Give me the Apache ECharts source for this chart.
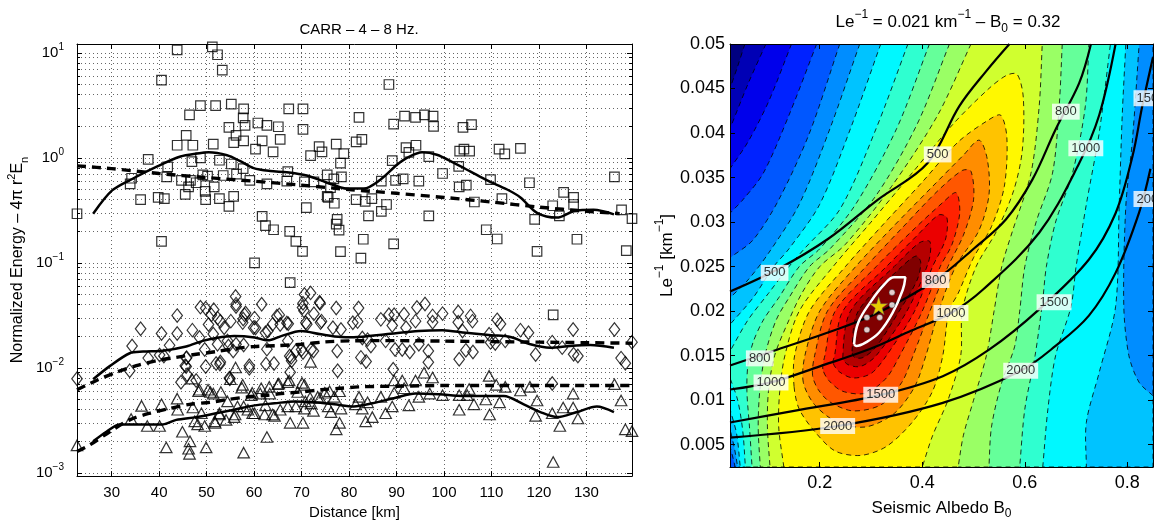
<!DOCTYPE html>
<html><head><meta charset="utf-8">
<script src="https://cdn.jsdelivr.net/npm/echarts@6/dist/echarts.min.js"></script>
<style>html,body{margin:0;padding:0;background:#fff}#c{width:1154px;height:525px}</style>
</head><body><div id="c"></div>
<script>
const FONT = 'Liberation Sans, Arial, Helvetica, sans-serif';

// ---------------- LEFT PANEL DATA ----------------
const DIST_TICKS = [30,40,50,60,70,80,90,100,110,120,130];
const ENERGY_DECADES = [0.001,0.01,0.1,1,10];
const ENERGY_MINOR = [0.002,0.003,0.004,0.005,0.006,0.007,0.008,0.009,0.02,0.03,0.04,0.05,0.06,0.07,0.08,0.09,0.2,0.3,0.4,0.5,0.6,0.7,0.8,0.9,2,3,4,5,6,7,8,9];

const SQUARES = [[22.7,0.294],[43.8,10.7],[51.2,11.4],[52.3,9.6],[53.3,6.85],[40.5,5.5],[48.7,3.15],[51.9,3.15],[55.2,3.25],[57.8,2.93],[57.7,2.41],[58.1,2.04],[46.4,2.57],[54.7,1.95],[60.8,2.15],[62.7,2.04],[65.1,1.98],[67.3,2.93],[70.3,2.93],[70.3,1.87],[45.7,1.64],[43.8,1.32],[47.1,1.32],[51.4,1.35],[56.2,1.64],[55.7,1.40],[57.8,1.45],[61.7,1.45],[65.5,1.5],[60.3,1.21],[64,1.14],[37.7,0.97],[46.9,0.92],[48.7,1.0],[52.7,0.95],[55.2,0.875],[57.7,0.79],[56.3,0.70],[53.5,0.68],[50.2,0.67],[49.2,0.69],[41.8,0.82],[41.6,0.66],[34.2,0.64],[33.9,0.565],[44.7,0.61],[46.6,0.61],[47.8,0.58],[46.2,0.53],[51.6,0.53],[59.1,0.61],[62.7,0.565],[67.1,0.74],[66.9,0.60],[70.6,0.59],[72.6,0.59],[73.7,1.28],[74.3,1.14],[71.9,1.05],[75.4,0.69],[49.7,0.48],[49.8,0.40],[45.5,0.45],[39.8,0.42],[41.1,0.41],[36.1,0.40],[52.7,0.41],[55.7,0.43],[54.7,0.345],[71,0.336],[75.4,0.43],[61.7,0.278],[62.4,0.226],[64.1,0.207],[67.5,0.20],[68.8,0.16],[70.2,0.129],[40.5,0.16],[60.1,0.10],[67.6,0.065],
[88.4,5.0],[82.1,2.43],[89.4,2.1],[91.7,2.5],[94,2.43],[95.9,2.57],[97.7,2.5],[97.8,2.0],[104,1.95],[105.8,2.07],[77.3,1.35],[81.5,1.42],[82.7,1.5],[78.9,1.1],[78.2,0.89],[89.1,0.94],[92,1.25],[92.6,1.13],[94.1,1.32],[96.8,1.03],[103.3,1.16],[104.2,1.21],[105.4,1.16],[111.6,1.21],[112.8,1.09],[116.1,1.23],[99.7,0.71],[103.1,0.83],[109.8,0.62],[118,0.58],[135.9,0.66],[76.8,0.63],[78.4,0.66],[76.1,0.52],[75.6,0.42],[76.9,0.37],[81.5,0.40],[83.4,0.385],[84.8,0.41],[86.8,0.31],[87.9,0.36],[84.1,0.28],[86.8,0.60],[89.8,0.61],[91.4,0.63],[94.7,0.60],[103.2,0.53],[104.7,0.55],[106.4,0.38],[112.2,0.41],[122.9,0.35],[125.2,0.47],[127.3,0.42],[127.3,0.36],[119.1,0.26],[124.3,0.28],[137.4,0.32],[139.6,0.264],[96.8,0.28],[77.5,0.26],[77.3,0.234],[77.9,0.205],[83,0.168],[78.2,0.128],[82.5,0.111],[89.4,0.152],[108.9,0.207],[111.2,0.169],[119.6,0.129],[128,0.168],[138.4,0.131],[123,0.032]];

const DIAMONDS = [[22.7,0.0079],[34.3,0.0162],[36.1,0.0236],[40.5,0.0213],[42.2,0.0164],[43.8,0.0315],[43.8,0.0213],[47,0.0229],[48.7,0.0379],[44.6,0.0073],[45.7,0.0103],[45.8,0.0125],[51.5,0.0358],[50.4,0.0259],[52.9,0.0278],[54.6,0.0162],[52.9,0.0114],[54.9,0.0079],[56.1,0.0478],[56.2,0.0405],[57.7,0.0292],[58.2,0.0334],[59,0.0105],[57.8,0.0165],[60.3,0.024],[62.4,0.0216],[64.8,0.031],[65.5,0.0259],[62.5,0.0109],[64.2,0.011],[62.7,0.0151],[66.9,0.0268],[67.5,0.013],[67.6,0.0091],[70.3,0.0413],[71.9,0.0518],[70.6,0.05],[70.5,0.035],[72.6,0.0328],[72.5,0.0145],[70.3,0.014],[71.1,0.026],[73.9,0.0413],[74,0.027],
[48.5,0.0195],[51.4,0.021],[37.7,0.0124],[40.1,0.0133],[41,0.013],[45.7,0.0124],[49.6,0.015],[45.5,0.0105],[33.8,0.0094],[45.9,0.0086],[49.8,0.0103],[47.8,0.0076],[52,0.011],[51,0.032],[49.8,0.037],
[56.2,0.0385],[58,0.032],[61.6,0.0404],[60.1,0.0298],[57.6,0.027],[55.1,0.0279],[52.3,0.0298],[53.7,0.0241],[59.9,0.0241],[62.9,0.0225],[63.9,0.026],[65.3,0.032],[67.2,0.0263],[73.8,0.0422],[70.2,0.0377],[70.9,0.0269],[74.2,0.0279],[77.3,0.0372],[76.6,0.0241],[78.3,0.0232],[80.8,0.0269],[52.3,0.0168],[54.4,0.0181],[56.2,0.0168],[55.6,0.0145],[52.8,0.0109],[59,0.0099],[54.8,0.008],[67.1,0.0181],[67.8,0.0126],[68.8,0.0145],[70,0.015],[72,0.015],[67.9,0.0117],[77.5,0.0145],[77.6,0.0094],[62.5,0.00093],
[82,0.0372],[81.8,0.0276],[83.9,0.0186],[86.7,0.029],[88.4,0.0321],[89.5,0.0321],[89.1,0.0253],[91.6,0.0325],[92,0.0241],[94,0.0279],[94.3,0.0376],[96,0.0406],[97.6,0.0313],[97.6,0.0272],[99.7,0.0329],[103,0.0341],[103,0.0272],[105.6,0.0313],[106,0.0279],[103.9,0.0225],[82.8,0.0193],[84.6,0.0162],[87.7,0.0181],[89.7,0.015],[91.2,0.015],[92.8,0.0142],[94.7,0.0168],[96.7,0.0145],[96.7,0.0113],[103.2,0.0121],[104.6,0.0147],[106.1,0.0142],[82.5,0.0126],[83.6,0.0115],[89.3,0.0097],[109.5,0.0209],[109.8,0.0175],
[111.9,0.0262],[111.2,0.0287],[112.9,0.0181],[110.8,0.0171],[116.1,0.0229],[117.8,0.0216],[119.3,0.0134],[122.8,0.0176],[124.9,0.0156],[127.2,0.0232],[127.3,0.0135],[128.2,0.013],[135.9,0.0232],[137.3,0.0124],[138.2,0.0111],[139.6,0.0176],[122.8,0.0071]];

const TRIANGLES = [[22.7,0.00183],[34.1,0.00326],[36.3,0.00435],[37.5,0.0028],[40.5,0.0045],[40.1,0.0028],[41.5,0.00175],[43.8,0.0051],[43.9,0.004],[44.9,0.00247],[46.5,0.002],[46.4,0.00152],[46.2,0.0017],[46.9,0.0079],[47.1,0.0042],[48.1,0.0029],[49.9,0.00175],[48.3,0.006],[50.8,0.0059],[51.8,0.003],[52.7,0.0037],[56,0.0036],[56.1,0.0101],[55,0.0078],[57.4,0.0065],[57.8,0.00156],[57.8,0.0043],[59.6,0.0058],[59.7,0.0037],[62.7,0.0022],[62.4,0.0044],[61.3,0.0057],[63.3,0.0057],[64.3,0.0035],[65.2,0.0071],[65.5,0.004],[67.1,0.0073],[67.6,0.003],[70.1,0.0072],[70.3,0.003],[70.8,0.0048],[71.8,0.0052],[71.9,0.0114],[72.5,0.0039],[73.9,0.0052],[74.9,0.0058],[75.6,0.0043],
[47.5,0.0031],[48.5,0.0062],[49.6,0.0028],[51.4,0.0057],[51.7,0.0031],[50.3,0.0062],[48.9,0.0037],
[57.6,0.0069],[59.4,0.0055],[61.5,0.0064],[63.2,0.0066],[65,0.007],[67.4,0.0076],[69.2,0.0059],[70.6,0.0069],[73.4,0.0053],[75.9,0.006],[76.9,0.0053],[78,0.006],[53,0.0059],[54.4,0.0048],[56.5,0.0043],[58.7,0.004],[60.1,0.0037],[62.2,0.0036],[63.9,0.0036],[67.1,0.0043],[68.8,0.0043],[70.6,0.0041],[72,0.0046],[76.2,0.0038],[78.3,0.0041],[52.7,0.0036],[54.1,0.0032],[55.8,0.0034],[78,0.003],[77.3,0.0026],
[82.1,0.0053],[83.9,0.0047],[82.8,0.0041],[81.4,0.0045],[84.9,0.0034],[83.5,0.0031],[86.7,0.0053],[87.7,0.0037],[89.1,0.0043],[89.5,0.0076],[89.5,0.0058],[91.2,0.0076],[91.6,0.0064],[92.6,0.0044],[94,0.0076],[94.7,0.0053],[95.8,0.009],[97.6,0.0081],[97,0.0057],[99.7,0.0055],[103.2,0.0055],[103.2,0.004],[104.9,0.0055],[105.3,0.0063],[106.3,0.0045],[108.8,0.005],[109.5,0.0084],[109.6,0.0036],
[111,0.0069],[111.7,0.0047],[112.9,0.0066],[116.1,0.0061],[118.1,0.0066],[119.6,0.0049],[119.3,0.0035],[122.8,0.0037],[124.4,0.0028],[125.1,0.0042],[127.2,0.0057],[127.2,0.0042],[128.2,0.0033],[135.9,0.007],[137.3,0.0049],[138.2,0.0026],[139.6,0.0025],[123,0.00127]];

const SQ_SMOOTH = [[26.1,0.294],[30.1,0.49],[34.6,0.64],[39.6,0.83],[44.5,1.03],[48,1.1],[50.4,1.13],[54.3,1.06],[57.1,0.93],[59.9,0.80],[63.4,0.75],[66.9,0.73],[71.1,0.68],[75,0.59],[79.6,0.51],[83.1,0.51],[86.6,0.62],[90.1,0.86],[92.2,1.0],[95.4,1.13],[98.5,1.07],[102,0.90],[105.6,0.74],[109.1,0.61],[113.3,0.50],[116.1,0.42],[119.6,0.30],[123.8,0.27],[127.3,0.31],[131.5,0.32],[135.8,0.29]];
const SQ_FIT = [[22.7,0.84],[30,0.79],[40,0.71],[50,0.65],[60,0.6],[70,0.55],[80,0.5],[90,0.46],[100,0.42],[110,0.38],[120,0.34],[130,0.31],[137,0.295]];
const DIA_SMOOTH = [[26.1,0.0078],[29.6,0.0104],[33.8,0.0138],[36.6,0.0143],[40.8,0.0146],[45.7,0.016],[49.2,0.0181],[52,0.0193],[55.8,0.0201],[60.1,0.0195],[62.9,0.0183],[65.7,0.0201],[69.9,0.0225],[74.1,0.0209],[78.3,0.0197],[81,0.0196],[87.7,0.0209],[94.7,0.0225],[99.7,0.0229],[104.6,0.0216],[110,0.0205],[114,0.0197],[118.2,0.0168],[122.4,0.0156],[126.6,0.0162],[130.8,0.0165],[135.8,0.0156]];
const DIA_FIT = [[22.7,0.0062],[26.8,0.0076],[31,0.0091],[35.2,0.0105],[39.4,0.0117],[43.6,0.0126],[47.8,0.0135],[52,0.0143],[56,0.0153],[60,0.016],[65,0.0163],[70,0.0168],[75,0.0177],[80,0.0181],[90,0.0182],[100,0.018],[110,0.0178],[120,0.0176],[130,0.0174],[139.6,0.0172]];
const TRI_SMOOTH = [[26.1,0.002],[28.9,0.00247],[31.7,0.0029],[33.8,0.0029],[38,0.0029],[40.8,0.0029],[43.6,0.0032],[47.8,0.0034],[52,0.0037],[55.8,0.004],[60.1,0.0044],[64.3,0.0046],[68.5,0.0048],[72.7,0.0047],[76.9,0.0045],[81,0.0043],[84.9,0.0046],[89.8,0.0052],[94,0.0057],[99,0.0056],[103.9,0.0054],[110.5,0.0054],[112.6,0.0054],[116.8,0.0045],[120.3,0.0038],[123.8,0.0034],[128,0.0038],[132.2,0.0043],[135.8,0.0038]];
const TRI_FIT = [[22.7,0.0016],[25.4,0.00185],[29.6,0.00247],[33.8,0.0032],[38,0.0037],[42.2,0.0041],[46.4,0.0045],[50.7,0.0047],[54.4,0.005],[58.7,0.0053],[62.9,0.0055],[65.7,0.0057],[69.9,0.0059],[74.1,0.0062],[78.3,0.0064],[82,0.0066],[90,0.0067],[100,0.0068],[110,0.0068],[120,0.0068],[130,0.0068],[139.6,0.0068]];

// ---------------- RIGHT PANEL DATA ----------------
const ALBEDO_TICKS = [0.2,0.4,0.6,0.8];
const LE_TICKS = [0.005,0.01,0.015,0.02,0.025,0.03,0.035,0.04,0.045,0.05];

// filled-contour regions (value >= level k)
const LEVEL_0 = [[0.025,0.0025],[0.85,0.0025],[0.85,0.05],[0.025,0.05]];
const LEVEL_1 = [[0.054,0.05],[0.04,0.0475],[0.025,0.045],[0.025,0.0025],[0.85,0.0025],[0.85,0.05]];
const LEVEL_2 = [[0.095,0.05],[0.06,0.0455],[0.025,0.0405],[0.025,0.0025],[0.85,0.0025],[0.85,0.05]];
const LEVEL_3 = [[0.145,0.05],[0.1,0.0435],[0.06,0.039],[0.025,0.036],[0.025,0.0025],[0.85,0.0025],[0.85,0.05]];
const LEVEL_4 = [[0.194,0.05],[0.14,0.042],[0.09,0.0355],[0.05,0.0325],[0.025,0.031],[0.025,0.0025],[0.85,0.0025],[0.85,0.05]];
const LEVEL_5 = [[0.239,0.05],[0.18,0.04],[0.12,0.0325],[0.07,0.028],[0.025,0.026],[0.025,0.0048],[0.031,0.0035],[0.035,0.0025],[0.85,0.0025],[0.85,0.05]];
const LEVEL_6 = [[0.278,0.05],[0.22,0.0405],[0.16,0.032],[0.1,0.0265],[0.06,0.0235],[0.025,0.0215],[0.025,0.0068],[0.034,0.0045],[0.04,0.0025],[0.85,0.0025],[0.85,0.0105],[0.823,0.012],[0.803,0.015],[0.793,0.0206],[0.797,0.0318],[0.81,0.0393],[0.823,0.05]];
const LEVEL_7 = [[0.319,0.05],[0.26,0.0405],[0.2,0.032],[0.14,0.027],[0.11,0.025],[0.07,0.0215],[0.025,0.0185],[0.025,0.009],[0.038,0.0062],[0.045,0.0025],[0.72,0.0025],[0.72,0.0075],[0.745,0.0131],[0.777,0.0205],[0.784,0.0318],[0.79,0.042],[0.797,0.05]];
const LEVEL_8 = [[0.372,0.05],[0.31,0.0405],[0.24,0.0315],[0.17,0.027],[0.14,0.025],[0.1,0.022],[0.06,0.019],[0.025,0.0155],[0.025,0.0125],[0.04,0.01],[0.05,0.0065],[0.055,0.0025],[0.635,0.0025],[0.645,0.009],[0.66,0.015],[0.69,0.0205],[0.7,0.025],[0.72,0.032],[0.745,0.04],[0.767,0.05]];
const LEVEL_9 = [[0.414,0.05],[0.35,0.0405],[0.27,0.032],[0.2,0.027],[0.16,0.025],[0.12,0.0215],[0.09,0.019],[0.07,0.0165],[0.06,0.014],[0.058,0.011],[0.063,0.007],[0.068,0.0025],[0.59,0.0025],[0.6,0.009],[0.62,0.015],[0.635,0.0213],[0.642,0.025],[0.66,0.03],[0.693,0.0355],[0.718,0.043],[0.725,0.05]];
const LEVEL_10 = [[0.453,0.05],[0.39,0.041],[0.31,0.033],[0.22,0.027],[0.18,0.025],[0.14,0.0215],[0.115,0.019],[0.093,0.015],[0.083,0.011],[0.08,0.007],[0.084,0.0025],[0.53,0.0025],[0.535,0.007],[0.555,0.012],[0.58,0.016],[0.59,0.02],[0.6,0.025],[0.622,0.03],[0.654,0.0355],[0.667,0.043],[0.673,0.05]];
const LEVEL_11 = [[0.495,0.05],[0.43,0.042],[0.34,0.034],[0.25,0.0275],[0.2,0.025],[0.165,0.022],[0.14,0.019],[0.112,0.015],[0.1,0.011],[0.098,0.007],[0.103,0.0025],[0.47,0.0025],[0.48,0.006],[0.5,0.01],[0.525,0.015],[0.54,0.02],[0.555,0.025],[0.576,0.029],[0.612,0.0355],[0.628,0.043],[0.634,0.05]];
const LEVEL_12 = [[0.13,0.0025],[0.12,0.007],[0.122,0.011],[0.132,0.015],[0.16,0.02],[0.226,0.025],[0.3,0.03],[0.38,0.0355],[0.46,0.041],[0.53,0.045],[0.565,0.0465],[0.585,0.0466],[0.597,0.044],[0.595,0.038],[0.578,0.0335],[0.545,0.029],[0.505,0.025],[0.478,0.02],[0.475,0.015],[0.45,0.01],[0.42,0.006],[0.40,0.0025]];
const LEVEL_13 = [[0.15,0.0115],[0.151,0.015],[0.18,0.02],[0.25,0.025],[0.32,0.0295],[0.40,0.0345],[0.47,0.039],[0.53,0.0415],[0.553,0.042],[0.565,0.0395],[0.56,0.034],[0.535,0.0295],[0.5,0.026],[0.47,0.022],[0.452,0.02],[0.44,0.015],[0.42,0.011],[0.38,0.0075],[0.33,0.0048],[0.28,0.0038],[0.23,0.0043],[0.19,0.0065],[0.16,0.009]];
const LEVEL_14 = [[0.168,0.012],[0.171,0.015],[0.2,0.02],[0.27,0.025],[0.34,0.0293],[0.42,0.034],[0.48,0.0375],[0.511,0.0392],[0.527,0.037],[0.53,0.033],[0.51,0.029],[0.465,0.025],[0.432,0.02],[0.407,0.015],[0.385,0.0115],[0.345,0.0085],[0.29,0.007],[0.235,0.0075],[0.19,0.0095]];
const LEVEL_15 = [[0.186,0.0128],[0.19,0.015],[0.215,0.02],[0.29,0.025],[0.36,0.0293],[0.43,0.0335],[0.478,0.0358],[0.495,0.0357],[0.5,0.0325],[0.48,0.0285],[0.45,0.025],[0.415,0.02],[0.382,0.015],[0.36,0.012],[0.32,0.0095],[0.265,0.0088],[0.22,0.0098],[0.197,0.0112]];
const LEVEL_16 = [[0.206,0.0135],[0.21,0.015],[0.23,0.02],[0.31,0.025],[0.38,0.029],[0.44,0.0322],[0.466,0.0333],[0.473,0.031],[0.458,0.0275],[0.435,0.025],[0.40,0.02],[0.356,0.015],[0.33,0.0125],[0.29,0.0108],[0.245,0.011],[0.218,0.0122]];
const LEVEL_17 = [[0.226,0.0142],[0.229,0.015],[0.245,0.02],[0.33,0.025],[0.39,0.0285],[0.432,0.0308],[0.448,0.0305],[0.445,0.028],[0.42,0.025],[0.385,0.02],[0.33,0.015],[0.3,0.013],[0.265,0.0125],[0.238,0.0132]];
const LEVEL_18 = [[0.245,0.0148],[0.26,0.02],[0.345,0.025],[0.395,0.0277],[0.415,0.0278],[0.412,0.0255],[0.37,0.02],[0.31,0.015],[0.28,0.0138],[0.255,0.014]];
const LEVEL_19 = [[0.263,0.0155],[0.275,0.02],[0.36,0.025],[0.388,0.0262],[0.397,0.0255],[0.39,0.0235],[0.355,0.02],[0.31,0.016],[0.285,0.0148],[0.268,0.0148]];
const LEVELS = [LEVEL_0,LEVEL_1,LEVEL_2,LEVEL_3,LEVEL_4,LEVEL_5,LEVEL_6,LEVEL_7,LEVEL_8,LEVEL_9,LEVEL_10,LEVEL_11,LEVEL_12,LEVEL_13,LEVEL_14,LEVEL_15,LEVEL_16,LEVEL_17,LEVEL_18,LEVEL_19];

const CONTOUR_500 = [[0.025,0.0222],[0.118,0.0247],[0.216,0.0281],[0.313,0.0325],[0.41,0.0366],[0.472,0.043],[0.524,0.0469],[0.57,0.05]];
const CONTOUR_800 = [[0.025,0.0139],[0.118,0.0157],[0.216,0.0176],[0.313,0.0198],[0.426,0.0235],[0.498,0.0269],[0.563,0.0303],[0.615,0.0348],[0.66,0.0404],[0.706,0.0456],[0.729,0.05]];
const CONTOUR_1000 = [[0.025,0.0112],[0.105,0.012],[0.2,0.0138],[0.3,0.0158],[0.378,0.0178],[0.456,0.0198],[0.518,0.0224],[0.628,0.0288],[0.706,0.0366],[0.745,0.042],[0.777,0.05]];
const CONTOUR_1500 = [[0.025,0.0075],[0.15,0.0088],[0.319,0.0106],[0.44,0.0127],[0.531,0.0157],[0.628,0.0202],[0.725,0.0258],[0.777,0.031],[0.81,0.0374],[0.829,0.043],[0.85,0.0485]];
const CONTOUR_2000 = [[0.025,0.0058],[0.235,0.0071],[0.44,0.0097],[0.592,0.0133],[0.66,0.0161],[0.725,0.0195],[0.777,0.0243],[0.823,0.0311],[0.845,0.036]];
const CONTOUR_LABELS = [[0.112,0.0243,'500'],[0.43,0.0376,'500'],[0.083,0.0147,'800'],[0.426,0.0235,'800'],[0.68,0.0424,'800'],[0.105,0.012,'1000'],[0.456,0.0198,'1000'],[0.719,0.0383,'1000'],[0.319,0.0106,'1500'],[0.657,0.021,'1500'],[0.846,0.0439,'1500'],[0.235,0.0071,'2000'],[0.592,0.0133,'2000'],[0.846,0.0326,'2000']];
const CONFIDENCE = [[0.267,0.0163],[0.275,0.0187],[0.2999,0.0211],[0.326,0.023],[0.345,0.0238],[0.367,0.0238],[0.362,0.0224],[0.342,0.0198],[0.316,0.0176],[0.29,0.0165],[0.271,0.0161],[0.267,0.0163]];
const BEST_DOTS = [[0.341,0.0221],[0.341,0.0207],[0.317,0.0193],[0.292,0.0193],[0.292,0.0179]];
const BEST_STAR = [[0.315,0.0206]];

// ---------------- helpers ----------------
function jet(t){
  const c = v => Math.round(255*Math.max(0, Math.min(1, v)));
  return 'rgb(' + c(1.5-Math.abs(4*t-3)) + ',' + c(1.5-Math.abs(4*t-2)) + ',' + c(1.5-Math.abs(4*t-1)) + ')';
}
const XMIN=0.025, XMAX=0.85, YMIN=0.0025, YMAX=0.05;
function onBorder(p){ const e=1e-9; return Math.abs(p[0]-XMIN)<e||Math.abs(p[0]-XMAX)<e||Math.abs(p[1]-YMIN)<e||Math.abs(p[1]-YMAX)<e; }

const black = '#000';
const tickStyle = {color: black, width: 1};
const dotted = {color: '#666', width: 1, type: [1, 3]};
const logLabel = v => { const e = Math.round(Math.log10(v)); return '{b|10}{s|' + (e < 0 ? '\u2212' + (-e) : String(e)) + '}'; };
const T = (size, extra) => Object.assign({fontSize:size, color:black, fontFamily:FONT, fontWeight:'normal'}, extra || {});

function leftY(extra){
  return Object.assign({gridIndex:0, type:'log', logBase:10, min:0.000933, max:12.15,
    axisLine:{show:false}, axisLabel:{show:false}, splitLine:{show:false}, minorTick:{show:false}}, extra);
}

const hollow = {color:'rgba(0,0,0,0)', borderColor:'#000', borderWidth:1.2};
function fitLine(data, dashed){
  return {type:'line', xAxisIndex:0, yAxisIndex:0, data, showSymbol:false, symbol:'none', smooth:0.3, silent:true, z:5,
    lineStyle: dashed ? {color:black, width:3.4, type:[9,6]} : {color:black, width:2.5}};
}
function contourLine(data){
  return {type:'line', xAxisIndex:2, yAxisIndex:4, data, symbol:'none', smooth:0.35, silent:true, z:4,
    lineStyle:{color:black, width:2.2}};
}

const option = {
  animation:false,
  backgroundColor:'#fff',
  textStyle:{fontFamily:FONT},
  title:[
    {text:'CARR \u2013 4 \u2013 8 Hz.', left:354, top:17, textAlign:'center', textStyle:T(15)},
    {text:'{a|Le}{p|\u22121}{a| = 0.021 km}{p|\u22121}{a| \u2013 B}{d|0}{a| = 0.32}', left:943, top:4, textAlign:'center',
     textStyle:Object.assign(T(17), {rich:{
       a:T(17, {lineHeight:26}),
       p:T(12, {lineHeight:14, verticalAlign:'top'}),
       d:T(12, {lineHeight:12, verticalAlign:'bottom'})}})}
  ],
  grid:[
    {left:77, top:44, width:555, height:438},
    {left:730, top:44, width:423, height:424}
  ],
  xAxis:[
    {gridIndex:0, type:'value', min:22.7, max:139.6, position:'bottom',
     axisLine:{show:true, onZero:false, lineStyle:tickStyle},
     axisTick:{inside:true, length:5, customValues:DIST_TICKS, lineStyle:tickStyle},
     axisLabel:Object.assign(T(15), {customValues:DIST_TICKS, margin:9}),
     splitLine:{show:true, lineStyle:dotted},
     name:'Distance [km]', nameLocation:'middle', nameGap:24, nameTextStyle:T(15)},
    {gridIndex:0, type:'value', min:22.7, max:139.6, position:'top',
     axisLine:{show:true, onZero:false, lineStyle:tickStyle},
     axisTick:{inside:true, length:5, customValues:DIST_TICKS, lineStyle:tickStyle},
     axisLabel:{show:false}, splitLine:{show:false}},
    {gridIndex:1, type:'value', min:XMIN, max:XMAX, position:'bottom',
     axisLine:{show:true, onZero:false, lineStyle:tickStyle},
     axisTick:{inside:true, length:5, customValues:ALBEDO_TICKS, lineStyle:tickStyle},
     axisLabel:Object.assign(T(18), {customValues:ALBEDO_TICKS, margin:7}),
     splitLine:{show:false}, z:10,
     name:'{a|Seismic Albedo B}{d|0}', nameLocation:'middle', nameGap:29,
     nameTextStyle:{rich:{a:T(17, {lineHeight:24}), d:T(12, {lineHeight:12, verticalAlign:'bottom'})}}},
    {gridIndex:1, type:'value', min:XMIN, max:XMAX, position:'top',
     axisLine:{show:true, onZero:false, lineStyle:tickStyle},
     axisTick:{inside:true, length:5, customValues:ALBEDO_TICKS, lineStyle:tickStyle},
     axisLabel:{show:false}, splitLine:{show:false}, z:10}
  ],
  yAxis:[
    leftY({position:'left', axisLine:{show:true, onZero:false, lineStyle:tickStyle},
      axisTick:{inside:true, length:5, customValues:ENERGY_DECADES, lineStyle:tickStyle},
      axisLabel:{show:true, customValues:ENERGY_DECADES, margin:13, formatter:logLabel,
        rich:{b:T(15, {lineHeight:22}), s:T(10, {lineHeight:12, verticalAlign:'top'})}},
      splitLine:{show:true, lineStyle:dotted},
      name:'{a|Normalized Energy \u2013 4\u03c0 r}{p|2}{a|E}{d|n}', nameLocation:'middle', nameGap:47,
      nameTextStyle:{rich:{a:T(16, {lineHeight:24}), p:T(11, {lineHeight:13, verticalAlign:'top'}),
        d:T(11, {lineHeight:12, verticalAlign:'bottom'})}}}),
    leftY({position:'left', axisTick:{inside:true, length:3, customValues:ENERGY_MINOR, lineStyle:tickStyle},
      splitLine:{show:true, lineStyle:dotted}}),
    leftY({position:'right', axisLine:{show:true, onZero:false, lineStyle:tickStyle},
      axisTick:{inside:true, length:5, customValues:ENERGY_DECADES, lineStyle:tickStyle}}),
    leftY({position:'right', axisTick:{inside:true, length:3, customValues:ENERGY_MINOR, lineStyle:tickStyle}}),
    {gridIndex:1, type:'value', min:YMIN, max:YMAX, position:'left',
     axisLine:{show:true, onZero:false, lineStyle:tickStyle},
     axisTick:{inside:true, length:5, customValues:LE_TICKS, lineStyle:tickStyle},
     axisLabel:Object.assign(T(18), {customValues:LE_TICKS, margin:5}),
     splitLine:{show:false}, z:10,
     name:'{a|Le}{p|\u22121}{a| [km}{p|\u22121}{a|]}', nameLocation:'middle', nameGap:50,
     nameTextStyle:{rich:{a:T(17, {lineHeight:26}), p:T(12, {lineHeight:14, verticalAlign:'top'})}}},
    {gridIndex:1, type:'value', min:YMIN, max:YMAX, position:'right',
     axisLine:{show:true, onZero:false, lineStyle:tickStyle},
     axisTick:{inside:true, length:5, customValues:LE_TICKS, lineStyle:tickStyle},
     axisLabel:{show:false}, splitLine:{show:false}, z:10}
  ],
  series:[
    {type:'scatter', xAxisIndex:0, yAxisIndex:0, data:SQUARES, symbol:'rect', symbolSize:9.5, itemStyle:hollow, silent:true, z:3},
    {type:'scatter', xAxisIndex:0, yAxisIndex:0, data:DIAMONDS, symbol:'diamond', symbolSize:[10.5,13.5], itemStyle:hollow, silent:true, z:3},
    {type:'scatter', xAxisIndex:0, yAxisIndex:0, data:TRIANGLES, symbol:'triangle', symbolSize:[11.5,10.5], itemStyle:hollow, silent:true, z:3},
    fitLine(SQ_SMOOTH,false), fitLine(SQ_FIT,true),
    fitLine(DIA_SMOOTH,false), fitLine(DIA_FIT,true),
    fitLine(TRI_SMOOTH,false), fitLine(TRI_FIT,true),
    {type:'custom', xAxisIndex:2, yAxisIndex:4, coordinateSystem:'cartesian2d', silent:true, clip:true, z:1,
     data: LEVELS.map(p => p[0]),
     renderItem:(params, api) => {
       const k = params.dataIndex;
       const pts = [];
       LEVELS[k].forEach(p => { const c = api.coord(p); pts.push(c); if (onBorder(p)) pts.push([c[0], c[1]]); });
       return {type:'polygon', shape:{points:pts, smooth:0.3},
         style:{fill:jet(k/19), stroke: k === 0 ? null : '#000', lineWidth:0.8, lineDash:[5,4]}};
     }},
    contourLine(CONTOUR_500), contourLine(CONTOUR_800), contourLine(CONTOUR_1000), contourLine(CONTOUR_1500), contourLine(CONTOUR_2000),
    {type:'line', xAxisIndex:2, yAxisIndex:4, data:CONFIDENCE, symbol:'none', smooth:0.4, silent:true, z:6,
     lineStyle:{color:'#fff', width:2.5}},
    {type:'scatter', xAxisIndex:2, yAxisIndex:4, data:BEST_DOTS, symbol:'circle', symbolSize:6, silent:true, z:7,
     itemStyle:{color:'#fff', borderColor:'#333', borderWidth:0.6}},
    {type:'scatter', xAxisIndex:2, yAxisIndex:4, data:BEST_STAR, symbolSize:18, silent:true, z:8,
     symbol:'path://M50 0 L61 35 L98 35 L68 57 L79 91 L50 70 L21 91 L32 57 L2 35 L39 35 Z',
     itemStyle:{color:'#ffff00', borderColor:'#666', borderWidth:0.6}},
    {type:'scatter', xAxisIndex:2, yAxisIndex:4, data:CONTOUR_LABELS, symbolSize:0, silent:true, z:9, clip:false,
     label:Object.assign(T(13), {show:true, position:'inside', formatter:p => p.value[2],
       backgroundColor:'#fff', padding:[2,3,1,3]})}
  ]
};
const chart = echarts.init(document.getElementById('c'), null, {renderer:'canvas'});
chart.setOption(option);
</script>
</body></html>
